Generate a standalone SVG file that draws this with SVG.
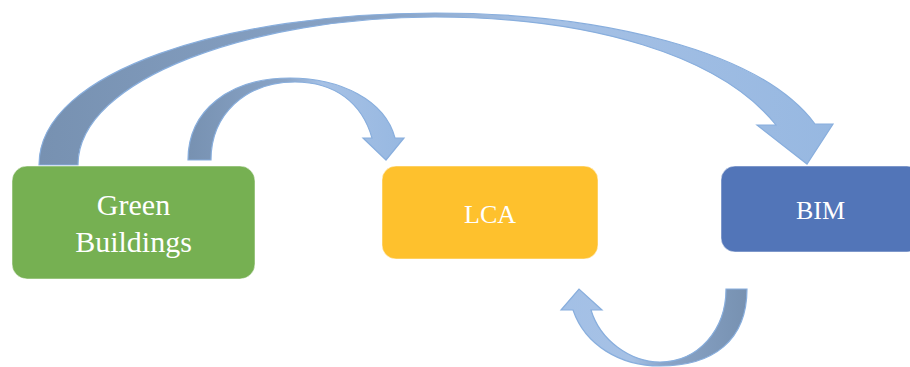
<svg xmlns="http://www.w3.org/2000/svg" width="910" height="367" viewBox="0 0 910 367">
<defs>
<linearGradient id="gBig" gradientUnits="userSpaceOnUse" x1="40" y1="0" x2="833" y2="0">
<stop offset="0" stop-color="#7791b1"/>
<stop offset="0.45" stop-color="#8aa5c8"/>
<stop offset="0.62" stop-color="#a6c1e5"/>
<stop offset="1" stop-color="#97b8e1"/>
</linearGradient>
<linearGradient id="gSmall" gradientUnits="userSpaceOnUse" x1="188" y1="0" x2="404" y2="0">
<stop offset="0" stop-color="#7791b1"/>
<stop offset="0.45" stop-color="#8aa5c8"/>
<stop offset="0.62" stop-color="#a6c1e5"/>
<stop offset="1" stop-color="#97b8e1"/>
</linearGradient>
<linearGradient id="gBottom" gradientUnits="userSpaceOnUse" x1="747" y1="0" x2="561" y2="0">
<stop offset="0" stop-color="#7791b1"/>
<stop offset="0.45" stop-color="#8aa5c8"/>
<stop offset="0.62" stop-color="#a6c1e5"/>
<stop offset="1" stop-color="#a3c0e6"/>
</linearGradient>
</defs>
<style>
.arrow{stroke:#88aedd;stroke-width:1.2;stroke-linejoin:miter}
.box{stroke:#ffffff;stroke-opacity:0.5;stroke-width:1}
.label{font-family:"Liberation Serif","Times New Roman",serif;fill:#ffffff;text-anchor:middle}
</style>
<g id="connectors">
<path class="arrow" fill="url(#gBig)" d="M39,165 C39,70 230,13 435,13 C600,13 760,50 815,124 L833,124 L807,164 L757,125 L776,125 C720,55 590,17 435,17 C255,17 78,78 78,165 Z"/>
<path class="arrow" fill="url(#gSmall)" d="M188,160 C188,110 230,78 290,78 C340,78 385,100 395,138 L404,138 L386,160 L363,138 L372,138 C362,103 335,82 295,82 C245,82 211,115 211,160 Z"/>
<path class="arrow" fill="url(#gBottom)" d="M747,289 C747,340 714,366 660,366 C620,366 585,345 573,310 L561,310 L579,289 L602,310 L591,310 C600,340 630,362 660,362 C698,362 726,330 726,289 Z"/>
</g>
<g id="green-buildings">
<rect class="box" x="12" y="166" width="243" height="113" rx="15" fill="#76b052"/>
<text class="label" x="133.5" y="215" font-size="30">Green</text>
<text class="label" x="133.5" y="252" font-size="30">Buildings</text>
</g>
<g id="lca">
<rect class="box" x="382" y="166" width="216" height="93" rx="14" fill="#fec12d"/>
<text class="label" x="490" y="223" font-size="26">LCA</text>
</g>
<g id="bim">
<rect class="box" x="721" y="166" width="200" height="86" rx="14" fill="#5275b8"/>
<text class="label" x="820.5" y="219" font-size="26">BIM</text>
</g>
</svg>
